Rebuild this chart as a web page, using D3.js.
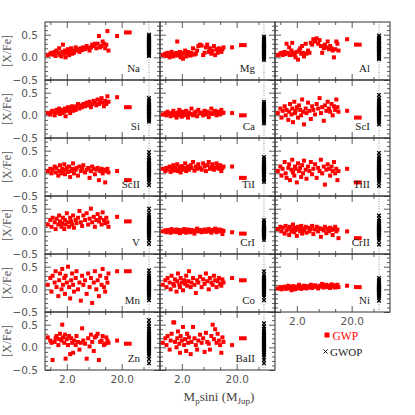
<!DOCTYPE html>
<html>
<head>
<meta charset="utf-8">
<script src="https://cdn.jsdelivr.net/npm/d3@7"></script>
<style>
  body { margin: 0; background: #fff; }
  svg { display: block; }
</style>
</head>
<body>
<svg id="chart"></svg>
<script>
// planet masses (M_p sin i, M_Jup) of the stars with planets, same order in every element array
const masses = [0.9, 1.0, 1.05, 1.1, 1.2, 1.25, 1.3, 1.4, 1.45, 1.5,
  1.6, 1.65, 1.7, 1.8, 1.85, 1.9, 2.0, 2.1, 2.2, 2.3,
  2.4, 2.5, 2.6, 2.7, 2.9, 3.0, 3.2, 3.4, 3.6, 3.8,
  4.0, 4.3, 4.6, 4.9, 5.2, 5.5, 5.8, 6.2, 6.5, 6.9,
  7.3, 7.7, 8.1, 8.6, 9.0, 9.5, 10.0, 10.5, 11.0, 11.5,
  16.5, 24.0, 28.0];

// [X/Fe] for stars with planets (GWP)
const naGWP = [0.05,0.08,0.10,0.06,0.12,0.03,0.15,0.10,0.20,0.05, 0.02,0.12,0.28,0.08,0.15,0.00,0.10,0.18,0.05,0.12, 0.20,0.08,0.15,0.10,0.22,0.15,0.18,0.12,0.20,0.16, 0.22,0.18,0.25,0.20,0.15,0.22,0.28,0.25,0.30,0.20, 0.30,0.47,0.22,0.25,0.35,0.30,0.20,0.28,0.58,0.15, 0.47,0.55,0.55];
const mgGWP = [0.05,0.08,0.03,0.10,0.00,0.06,0.12,0.02,0.08,0.05, 0.10,0.35,0.04,0.08,0.12,0.00,0.05,-0.03,0.10,0.15, 0.02,0.08,0.12,0.05,0.04,0.10,0.20,0.06,0.08,0.15, 0.25,0.28,0.26,0.05,0.10,0.22,0.28,0.12,0.20,0.08, 0.15,0.25,0.05,0.18,0.10,0.20,0.15,0.12,0.18,0.22, 0.22,0.27,0.27];
const alGWP = [0.05,0.08,0.10,0.05,0.12,0.07,0.30,0.10,0.22,0.05, 0.15,0.32,0.08,0.05,0.10,0.00,0.12,-0.05,0.15,0.20, 0.08,0.25,0.10,0.02,0.30,0.08,0.15,0.10,0.32,0.28, 0.40,0.35,0.42,0.30,0.38,0.25,0.10,0.20,0.28,0.22, 0.35,0.18,0.25,0.20,0.15,0.00,0.18,0.35,0.30,0.15, 0.40,0.28,0.28];
const siGWP = [0.05,0.02,0.08,0.10,0.00,0.05,0.12,0.08,0.15,0.03, 0.10,0.05,0.12,0.08,0.15,-0.02,0.10,0.18,0.12,0.05, 0.15,0.20,0.10,0.18,0.12,0.20,0.25,0.15,0.22,0.18, 0.25,0.20,0.28,0.22,0.30,0.18,0.25,0.32,0.28,0.22, 0.35,0.25,0.30,0.38,0.28,0.20,0.32,0.25,0.42,0.30, 0.40,0.18,0.18];
const caGWP = [0.02,0.05,0.00,0.08,0.03,-0.02,0.05,0.10,0.00,0.04, -0.05,0.06,0.02,0.12,0.00,0.05,-0.03,0.08,0.04,0.00, 0.10,0.02,-0.05,0.06,0.03,0.15,0.00,0.05,0.08,-0.02, 0.12,0.04,0.06,0.00,0.10,0.02,0.08,-0.04,0.05,0.15, 0.03,0.06,0.10,0.00,0.05,0.08,0.02,0.12,0.05,0.06, 0.05,0.00,0.00];
const scIGWP = [0.05,0.15,-0.05,0.10,0.20,0.00,0.12,-0.10,0.08,0.25, 0.02,0.15,-0.15,0.30,0.05,0.10,0.18,-0.05,0.22,0.12, 0.00,0.35,0.08,-0.20,0.15,0.05,0.28,0.10,-0.08,0.20, 0.12,0.02,0.25,0.15,0.38,0.05,0.18,-0.12,0.22,0.10, 0.30,0.15,0.08,0.25,0.00,0.20,0.12,0.35,0.18,0.08, 0.10,-0.05,-0.05];
const scIIGWP = [0.05,0.10,0.00,0.08,0.15,0.02,0.12,-0.05,0.05,0.18, 0.00,0.10,0.06,0.20,-0.02,0.08,0.12,0.03,0.15,-0.08, 0.05,0.10,0.22,0.00,0.08,0.12,-0.05,0.15,0.05,0.10, 0.18,0.02,0.08,0.12,-0.10,0.05,0.15,0.10,-0.02,0.08, 0.12,-0.15,0.05,0.10,0.00,0.08,-0.20,0.05,0.10,0.02, 0.05,-0.15,-0.15];
const tiIGWP = [0.10,0.05,0.12,0.08,0.15,0.03,0.10,0.18,0.06,0.12, 0.08,0.20,0.05,0.14,0.10,0.02,0.16,0.08,0.12,0.22, 0.05,0.10,0.15,0.08,0.18,0.12,0.25,0.06,0.15,0.10, 0.20,0.12,0.08,0.22,0.15,0.05,0.18,0.25,0.10,0.15, 0.20,0.08,0.12,0.22,0.15,0.10,0.18,0.05,0.12,0.15, 0.15,-0.10,-0.10];
const tiIIGWP = [0.05,0.15,-0.05,0.10,0.25,0.00,-0.10,0.12,0.20,-0.15, 0.08,0.30,0.02,-0.05,0.15,0.10,-0.20,0.22,0.05,0.12, -0.08,0.18,0.00,0.28,0.08,-0.12,0.15,0.05,0.25,-0.02, 0.10,0.20,-0.10,0.12,0.05,0.30,0.00,0.15,-0.25,0.08, 0.20,0.10,-0.05,0.15,0.05,0.25,0.00,0.10,-0.15,0.05, 0.10,-0.20,-0.20];
const vGWP = [0.15,0.25,0.10,0.30,0.20,0.05,0.28,0.15,0.35,0.22, 0.10,0.18,0.30,0.05,0.25,0.15,0.40,0.20,0.10,0.30, 0.22,0.15,0.35,0.08,0.25,0.18,0.30,0.45,0.20,0.12, 0.35,0.25,0.40,0.15,0.28,0.50,0.20,0.32,0.10,0.25, 0.38,0.22,0.30,0.15,0.42,0.25,0.18,0.30,0.20,0.10, 0.32,0.22,0.22];
const crIGWP = [0.00,0.02,-0.02,0.03,0.00,-0.03,0.05,0.01,-0.01,0.02, 0.04,-0.02,0.00,0.03,-0.04,0.01,0.02,-0.01,0.05,0.00, -0.03,0.02,0.04,0.00,-0.02,0.03,0.01,-0.05,0.02,0.06, 0.00,0.03,-0.02,0.01,0.04,-0.01,0.02,0.05,0.00,-0.03, 0.03,0.01,0.06,-0.02,0.02,0.04,0.00,0.03,-0.06,0.01, -0.02,-0.05,-0.05];
const crIIGWP = [0.05,0.10,0.00,0.08,-0.05,0.12,0.02,0.06,-0.08,0.10, 0.00,0.05,0.15,-0.02,0.08,0.03,-0.10,0.10,0.05,0.00, 0.12,-0.05,0.06,0.02,0.10,-0.03,0.08,0.00,0.05,0.12, -0.06,0.04,0.10,0.00,0.07,-0.12,0.05,0.02,0.10,-0.04, 0.06,0.00,0.08,0.03,-0.08,0.05,0.10,0.00,0.04,-0.15, 0.00,-0.15,-0.15];
const mnGWP = [0.10,0.25,-0.05,0.30,0.15,0.40,0.05,-0.15,0.20,0.35, 0.00,0.45,0.10,0.25,-0.10,0.30,0.15,0.50,0.05,-0.20, 0.20,0.35,0.10,-0.05,0.25,0.40,0.00,0.15,-0.25,0.30, 0.10,0.20,-0.10,0.35,0.05,0.25,-0.30,0.15,0.40,0.00, 0.20,-0.15,0.30,0.10,0.45,0.05,-0.05,0.25,0.15,0.35, 0.40,0.40,0.40];
const coGWP = [0.10,0.20,0.05,0.25,0.15,0.00,0.30,0.12,0.08,0.22, -0.05,0.18,0.35,0.10,0.05,0.25,0.15,-0.02,0.20,0.12, 0.30,0.08,0.18,0.40,0.05,0.15,0.25,0.10,-0.08,0.20, 0.15,0.28,0.05,0.22,0.12,0.35,0.18,0.00,0.25,0.15, 0.10,0.30,0.20,0.05,0.18,0.25,0.12,0.08,0.22,0.15, 0.25,0.20,0.20];
const niGWP = [0.02,0.05,0.00,0.04,0.06,0.01,0.03,0.08,0.02,0.05, -0.02,0.04,0.07,0.03,0.00,0.06,0.02,0.05,0.10,0.04, 0.01,0.06,0.03,0.08,0.05,0.02,0.07,0.04,0.10,0.03, 0.06,0.09,0.05,0.02,0.08,0.06,0.12,0.04,0.07,0.10, 0.05,0.08,0.03,0.11,0.06,0.09,0.04,0.07,0.10,0.05, 0.08,0.05,0.05];
const znGWP = [0.22,0.15,0.10,-0.28,0.12,0.20,0.25,0.05,0.18,0.30, 0.15,0.50,0.22,0.10,0.28,-0.25,0.18,0.05,0.25,-0.15, 0.20,0.10,-0.12,0.15,0.05,0.25,0.12,-0.05,0.10,0.42, 0.15,0.08,-0.25,0.20,0.02,0.28,0.12,-0.08,0.22,0.25, 0.30,-0.28,0.12,0.15,0.25,0.05,0.08,0.22,0.15,0.10, 0.15,0.08,0.08];
const baIIGWP = [0.10,0.20,0.05,0.25,-0.05,0.15,0.30,0.55,0.55,0.12, 0.00,0.20,0.35,0.08,-0.12,0.25,0.15,0.45,0.05,0.18, -0.08,0.30,0.10,0.22,-0.15,0.12,0.45,0.20,0.05,-0.05, 0.15,0.28,0.10,0.20,-0.10,0.32,0.12,0.08,-0.05,0.25, 0.50,0.18,0.40,0.10,0.30,0.15,0.05,-0.12,0.22,0.12, 0.05,0.20,0.20];

// [X/Fe] for stars without planets (GWOP), all plotted at one arbitrary mass
const gwopMass = 63;
const naGWOP = [0.50,0.47,0.44,0.42,0.40,0.38,0.37,0.35,0.34,0.32,0.31,0.30,0.28,0.27,0.26,0.24,0.23,0.21,0.20,0.18,0.17,0.15,0.13,0.11,0.08,0.05,0.03];
const mgGWOP = [0.46,0.42,0.39,0.36,0.34,0.32,0.31,0.29,0.28,0.26,0.25,0.24,0.22,0.21,0.19,0.18,0.16,0.15,0.13,0.12,0.10,0.08,0.06,0.03,0.00,-0.03,-0.06];
const alGWOP = [0.48,0.44,0.41,0.38,0.36,0.34,0.33,0.31,0.30,0.28,0.27,0.25,0.24,0.22,0.21,0.19,0.18,0.16,0.15,0.13,0.11,0.09,0.07,0.04,0.01,-0.02,-0.04];
const siGWOP = [0.38,0.33,0.29,0.26,0.24,0.22,0.20,0.19,0.17,0.16,0.14,0.13,0.12,0.10,0.09,0.07,0.06,0.04,0.03,0.01,0.00,-0.02,-0.04,-0.07,-0.10,-0.14];
const caGWOP = [0.30,0.26,0.23,0.20,0.18,0.16,0.15,0.13,0.12,0.10,0.09,0.08,0.06,0.05,0.03,0.02,0.00,-0.01,-0.03,-0.04,-0.06,-0.08,-0.11,-0.14,-0.18];
const scIGWOP = [0.45,0.38,0.33,0.29,0.26,0.23,0.21,0.19,0.17,0.15,0.13,0.12,0.10,0.08,0.07,0.05,0.03,0.02,0.00,-0.02,-0.04,-0.06,-0.09,-0.12,-0.16,-0.20];
const scIIGWOP = [0.47,0.40,0.34,0.30,0.27,0.24,0.22,0.20,0.18,0.16,0.14,0.12,0.11,0.09,0.07,0.06,0.04,0.02,0.00,-0.02,-0.04,-0.07,-0.10,-0.14,-0.19,-0.26];
const tiIGWOP = [0.36,0.31,0.27,0.24,0.22,0.20,0.18,0.17,0.15,0.14,0.12,0.11,0.09,0.08,0.06,0.05,0.03,0.02,0.00,-0.02,-0.04,-0.07,-0.10,-0.14,-0.19];
const tiIIGWOP = [0.45,0.38,0.33,0.29,0.26,0.23,0.21,0.19,0.17,0.15,0.13,0.11,0.09,0.08,0.06,0.04,0.02,0.00,-0.02,-0.04,-0.06,-0.09,-0.12,-0.16,-0.21,-0.28];
const vGWOP = [0.50,0.42,0.36,0.31,0.27,0.24,0.21,0.19,0.17,0.15,0.13,0.11,0.09,0.07,0.05,0.03,0.01,-0.01,-0.03,-0.05,-0.08,-0.11,-0.15,-0.20,-0.28];
const crIGWOP = [0.25,0.20,0.16,0.13,0.11,0.09,0.08,0.06,0.05,0.04,0.03,0.02,0.01,0.00,-0.01,-0.02,-0.03,-0.04,-0.06,-0.07,-0.09,-0.11,-0.14,-0.19];
const crIIGWOP = [0.35,0.28,0.23,0.19,0.16,0.14,0.12,0.10,0.09,0.07,0.06,0.05,0.03,0.02,0.01,-0.01,-0.02,-0.04,-0.05,-0.07,-0.09,-0.12,-0.16,-0.21,-0.29];
const mnGWOP = [0.42,0.35,0.30,0.26,0.23,0.20,0.18,0.16,0.14,0.12,0.10,0.08,0.07,0.05,0.03,0.02,0.00,-0.02,-0.04,-0.06,-0.08,-0.11,-0.14,-0.18,-0.24];
const coGWOP = [0.40,0.33,0.28,0.25,0.22,0.20,0.18,0.16,0.14,0.13,0.11,0.09,0.08,0.06,0.05,0.03,0.01,0.00,-0.02,-0.04,-0.06,-0.09,-0.12,-0.17,-0.24];
const niGWOP = [0.25,0.20,0.16,0.13,0.11,0.09,0.08,0.06,0.05,0.04,0.02,0.01,0.00,-0.01,-0.02,-0.03,-0.05,-0.06,-0.08,-0.10,-0.12,-0.15,-0.19,-0.25];
const znGWOP = [0.60,0.52,0.46,0.41,0.37,0.33,0.30,0.27,0.24,0.22,0.19,0.17,0.15,0.13,0.11,0.09,0.07,0.05,0.03,0.01,-0.01,-0.03,-0.05,-0.08,-0.11,-0.14,-0.19,-0.26,-0.35];
const baIIGWOP = [0.53,0.46,0.41,0.37,0.33,0.30,0.27,0.25,0.22,0.20,0.18,0.16,0.14,0.12,0.10,0.08,0.06,0.04,0.02,0.00,-0.02,-0.04,-0.07,-0.10,-0.13,-0.17,-0.22,-0.28,-0.35];

const elements = ["Na", "Mg", "Al", "Si", "Ca", "ScI", "ScII", "TiI", "TiII",
  "V", "CrI", "CrII", "Mn", "Co", "Ni", "Zn", "BaII"];
const gwpSets = [naGWP, mgGWP, alGWP, siGWP, caGWP, scIGWP, scIIGWP, tiIGWP, tiIIGWP,
  vGWP, crIGWP, crIIGWP, mnGWP, coGWP, niGWP, znGWP, baIIGWP];
const gwopSets = [naGWOP, mgGWOP, alGWOP, siGWOP, caGWOP, scIGWOP, scIIGWOP, tiIGWOP, tiIIGWOP,
  vGWOP, crIGWOP, crIIGWOP, mnGWOP, coGWOP, niGWOP, znGWOP, baIIGWOP];

const yMajor = [-0.5, 0.0, 0.5];
const yMinor = [-0.4, -0.3, -0.2, -0.1, 0.1, 0.2, 0.3, 0.4, 0.6, 0.7];
const xMajor = [2, 20];
const xMinor = [1, 5, 10, 50];
const legendLabels = ["GWP", "GWOP"];

// layout
const W = 415, H = 415;
const margin = { top: 22, left: 45 };
const panelW = 115, panelH = 58, nCols = 3;
const red = "#ff0000";
const serif = "'Liberation Serif', 'DejaVu Serif', serif";
const sans = "'DejaVu Sans', sans-serif";

const svg = d3.select("#chart").attr("width", W).attr("height", H);

const x = d3.scaleLog().domain([0.8, 100]).range([0, panelW]);
const y = d3.scaleLinear().domain([-0.5, 0.78]).range([panelH, 0]);

function tickAxis(axis, values, size) {
  return axis.tickValues(values).tickSize(size).tickFormat("");
}

function styleAxis(sel) {
  sel.select(".domain").remove();
  sel.selectAll(".tick line").attr("stroke", "#333").attr("stroke-width", 0.8);
}

const panels = elements.map((name, i) => ({ name, gwp: gwpSets[i], gwop: gwopSets[i] }));

panels.forEach((p, i) => {
  const col = i % nCols;
  const row = Math.floor(i / nCols);
  const g = svg.append("g")
    .attr("transform", `translate(${margin.left + col * panelW},${margin.top + row * panelH})`);

  // dotted line marking the GWOP column
  g.append("line")
    .attr("x1", x(gwopMass)).attr("x2", x(gwopMass))
    .attr("y1", 0).attr("y2", panelH)
    .attr("stroke", "#777")
    .attr("stroke-width", 0.8)
    .attr("stroke-dasharray", "1,1.5");

  // inward ticks on all four sides
  const axes = [
    [d3.axisLeft(y), yMinor, -3, 0, 0], [d3.axisLeft(y), yMajor, -6, 0, 0],
    [d3.axisRight(y), yMinor, -3, panelW, 0], [d3.axisRight(y), yMajor, -6, panelW, 0],
    [d3.axisBottom(x), xMinor, -3, 0, panelH], [d3.axisBottom(x), xMajor, -6, 0, panelH],
    [d3.axisTop(x), xMinor, -3, 0, 0], [d3.axisTop(x), xMajor, -6, 0, 0]
  ];
  axes.forEach(([ax, vals, size, tx, ty]) => {
    g.append("g")
      .attr("transform", `translate(${tx},${ty})`)
      .call(tickAxis(ax, vals, size))
      .call(styleAxis);
  });

  g.append("rect")
    .attr("width", panelW).attr("height", panelH)
    .attr("fill", "none")
    .attr("stroke", "#333")
    .attr("stroke-width", 1);

  // GWOP crosses
  const s = 1.8;
  g.append("g")
    .selectAll("path")
    .data(p.gwop)
    .join("path")
    .attr("transform", d => `translate(${x(gwopMass)},${y(d)})`)
    .attr("d", `M${-s},${-s}L${s},${s}M${-s},${s}L${s},${-s}`)
    .attr("stroke", "#000")
    .attr("stroke-width", 1.3)
    .attr("fill", "none");

  // GWP squares
  const sq = 4;
  g.append("g")
    .selectAll("rect")
    .data(p.gwp)
    .join("rect")
    .attr("x", (d, j) => x(masses[j]) - sq / 2)
    .attr("y", d => y(d) - sq / 2)
    .attr("width", sq).attr("height", sq)
    .attr("fill", red);

  // element label
  g.append("text")
    .attr("x", panelW - 20)
    .attr("y", panelH - 8)
    .attr("text-anchor", "end")
    .style("font-family", serif)
    .style("font-size", "11px")
    .attr("fill", "#222")
    .text(p.name);

  // y tick labels and title on the first column
  if (col === 0) {
    g.append("g")
      .call(d3.axisLeft(y).tickValues(yMajor).tickSize(0).tickPadding(7).tickFormat(d3.format(".1f")))
      .call(sel => sel.select(".domain").remove())
      .call(sel => sel.selectAll("text")
        .style("font-family", sans).style("font-size", "10.5px").attr("fill", "#555"));

    g.append("text")
      .attr("transform", `translate(${-34.5},${panelH / 2}) rotate(-90)`)
      .attr("text-anchor", "middle")
      .style("font-family", serif)
      .style("font-size", "12px")
      .attr("fill", "#555")
      .text("[X/Fe]");
  }

  // x tick labels under the bottom panel of each column
  const isBottom = i + nCols >= panels.length;
  if (isBottom) {
    g.append("g")
      .attr("transform", `translate(0,${panelH})`)
      .call(d3.axisBottom(x).tickValues(xMajor).tickSize(0).tickPadding(6).tickFormat(d => d.toFixed(1)))
      .call(sel => sel.select(".domain").remove())
      .call(sel => sel.selectAll("text")
        .style("font-family", sans).style("font-size", "10.5px").attr("fill", "#555"));
  }
});

// x axis title
const title = svg.append("text")
  .attr("x", 219)
  .attr("y", 401)
  .attr("text-anchor", "middle")
  .style("font-family", serif)
  .style("font-size", "13px")
  .attr("fill", "#444");
title.append("tspan").text("M");
title.append("tspan").attr("dy", 3).style("font-size", "9px").text("p");
title.append("tspan").attr("dy", -3).text("sini (M");
title.append("tspan").attr("dy", 3).style("font-size", "9px").text("Jup");
title.append("tspan").attr("dy", -3).text(")");

// legend
const legend = svg.append("g").attr("transform", "translate(327,0)");
legend.append("rect")
  .attr("x", -2.5).attr("y", 332.5)
  .attr("width", 5).attr("height", 5)
  .attr("fill", red);
legend.append("text")
  .attr("x", 5.5).attr("y", 340)
  .style("font-family", serif).style("font-size", "11.5px")
  .attr("fill", red)
  .text(legendLabels[0]);
legend.append("path")
  .attr("d", "M-3.5,349.5L0.5,353.5M-3.5,353.5L0.5,349.5")
  .attr("stroke", "#000").attr("stroke-width", 1);
legend.append("text")
  .attr("x", 3).attr("y", 355.5)
  .style("font-family", serif).style("font-size", "11px")
  .attr("fill", "#222")
  .text(legendLabels[1]);
</script>
</body>
</html>
